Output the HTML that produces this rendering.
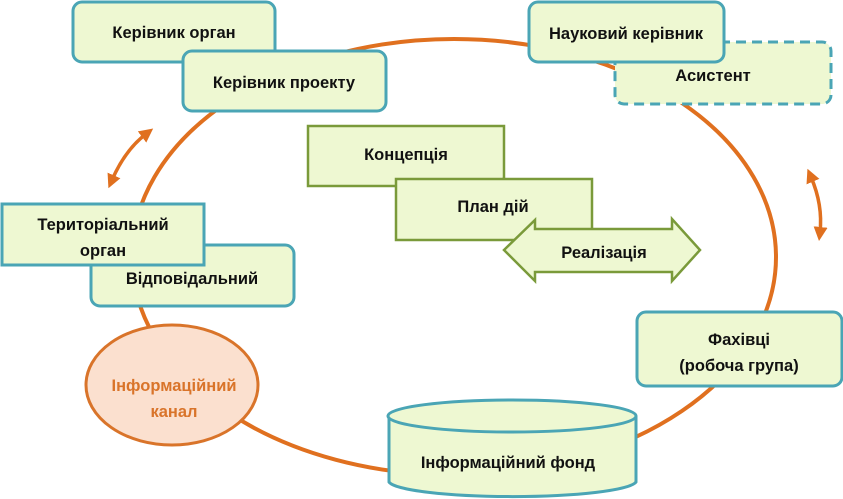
<!DOCTYPE html>
<html><head><meta charset="utf-8"><style>
html,body{margin:0;padding:0;background:#fff}
svg{display:block}
text{font-family:"Liberation Sans","DejaVu Sans",sans-serif;font-weight:bold;font-size:16.5px;fill:#111;text-anchor:middle}
</style></head><body>
<svg width="843" height="499" viewBox="0 0 843 499" xmlns="http://www.w3.org/2000/svg">
<defs>
<marker id="ah" markerWidth="14" markerHeight="14" refX="5" refY="7" orient="auto-start-reverse" markerUnits="userSpaceOnUse"><path d="M0,0 L14,7 L0,14 Z" fill="#e0701f"/></marker>
</defs>
<ellipse cx="454" cy="257" rx="322" ry="218" fill="none" stroke="#e0701f" stroke-width="4"/>
<path d="M112,180 Q125,150 146,134" fill="none" stroke="#e0701f" stroke-width="3.5" marker-start="url(#ah)" marker-end="url(#ah)"/>
<path d="M811,177 Q823,205 820,232" fill="none" stroke="#e0701f" stroke-width="3.5" marker-start="url(#ah)" marker-end="url(#ah)"/>
<g stroke="#4aa5b5" stroke-width="3" fill="#eef8d2">
<rect x="73" y="2" width="202" height="60" rx="9"/>
<rect x="183" y="51" width="203" height="60" rx="9"/>
<rect x="615" y="42" width="216" height="62" rx="9" stroke-dasharray="10,6"/>
<rect x="529" y="2" width="195" height="60" rx="9"/>
<rect x="91" y="245" width="203" height="61" rx="9"/>
<rect x="2" y="204" width="202" height="61"/>
<rect x="637" y="312" width="205" height="74" rx="9"/>
<path d="M389,416 L389,482 A124,16 0 0 0 636,482 L636,416" />
<ellipse cx="512" cy="416" rx="124" ry="16"/>
</g>
<ellipse cx="172" cy="385" rx="86" ry="60" fill="#fbe0cf" stroke="#d9742a" stroke-width="3"/>
<g stroke="#7a9a3a" stroke-width="2.5" fill="#eef8d2">
<path d="M308,126 L504,126 L504,178 L496,186 L308,186 Z"/>
<path d="M396,179 L592,179 L592,232 L584,240 L396,240 Z"/>
<path d="M504,250 L535,220 L535,229 L672,229 L672,219 L700,250 L672,281 L672,272 L535,272 L535,281 Z"/>
</g>
<text x="174" y="38">Керівник орган</text>
<text x="284" y="88">Керівник проекту</text>
<text x="626" y="39">Науковий керівник</text>
<text x="713" y="81">Асистент</text>
<text x="103" y="230">Територіальний</text>
<text x="103" y="256">орган</text>
<text x="192" y="284">Відповідальний</text>
<text x="739" y="345">Фахівці</text>
<text x="739" y="371">(робоча група)</text>
<text x="406" y="160">Концепція</text>
<text x="493" y="212">План дій</text>
<text x="604" y="258">Реалізація</text>
<text x="174" y="391" style="fill:#d9742a">Інформаційний</text>
<text x="174" y="417" style="fill:#d9742a">канал</text>
<text x="508" y="468">Інформаційний фонд</text>
</svg>
</body></html>
